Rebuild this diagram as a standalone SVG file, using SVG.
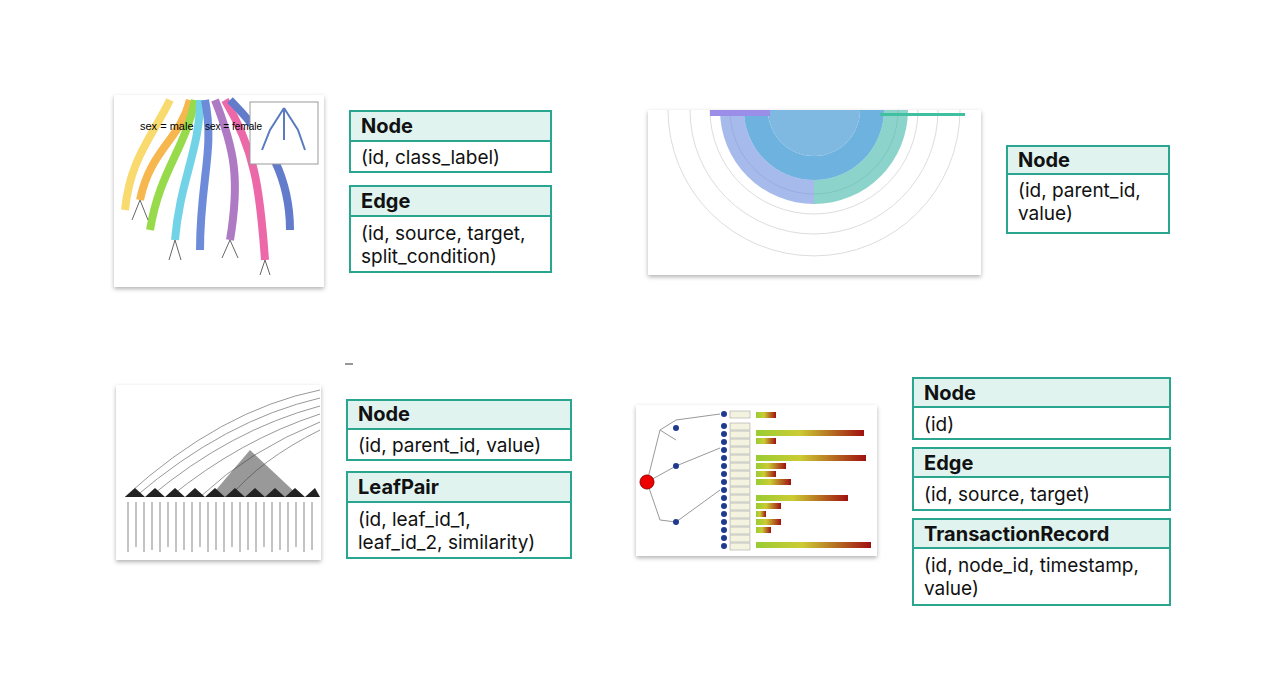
<svg xmlns="http://www.w3.org/2000/svg" width="1264" height="686" viewBox="0 0 1264 686">
<defs>
<style>
.hd{fill:#e0f3ef;stroke:#2aa58f;stroke-width:2}
.bd{fill:#fff;stroke:#2aa58f;stroke-width:2}
.ht{font-family:Inter,"Liberation Sans",sans-serif;font-weight:bold;font-size:20px;fill:#111}
.bt{font-family:Inter,"Liberation Sans",sans-serif;font-size:19px;fill:#111}
.th{fill:#fff;filter:url(#sh)}
</style>
<filter id="sh" x="-5%" y="-5%" width="110%" height="115%"><feDropShadow dx="0" dy="2" stdDeviation="2" flood-opacity="0.3"/></filter>
<linearGradient id="rg" x1="0" x2="1"><stop offset="0" stop-color="#9c3"/><stop offset="0.4" stop-color="#cc3"/><stop offset="1" stop-color="#a01010"/></linearGradient>
</defs>
<rect width="1264" height="686" fill="#fff"/>

<g id="thumb-tree">
<rect class="th" x="114" y="95" width="210" height="192"/>
<g fill="none" stroke-width="8" opacity="0.8">
<path d="M190 100 C180 140 150 150 140 200" stroke="#f5a623"/>
<path d="M195 100 C185 150 160 170 150 230" stroke="#7ed321"/>
<path d="M200 100 C200 150 180 180 175 240" stroke="#50c8e0"/>
<path d="M205 100 C215 150 200 180 200 250" stroke="#4a6fd0"/>
<path d="M215 100 C235 150 240 180 230 240" stroke="#9b59b6"/>
<path d="M225 100 C255 150 260 190 265 260" stroke="#e84393"/>
<path d="M230 100 C270 140 290 180 290 230" stroke="#3b5bbf"/>
<path d="M170 100 C150 140 130 160 125 210" stroke="#f7d14c"/>
</g>
<g stroke="#666" stroke-width="1" fill="none">
<path d="M140 200 l-8 20 M140 200 l8 20 M175 240 l-6 20 M175 240 l6 20 M230 240 l-8 18 M230 240 l8 18 M265 260 l-5 15 M265 260 l5 15"/>
</g>
<rect x="250" y="102" width="68" height="62" fill="#fff" stroke="#999"/>
<path d="M284 108 L270 130 L262 150 M284 108 L298 130 L305 150 M284 108 L284 140" stroke="#5a7bc0" stroke-width="2" fill="none"/>
<text x="140" y="130" font-family="Liberation Sans,sans-serif" font-size="11">sex = male</text>
<text x="205" y="130" font-family="Liberation Sans,sans-serif" font-size="10">sex = female</text>
</g>

<g id="node-a1"><rect class="hd" x="350" y="111" width="201" height="30"/><rect class="bd" x="350" y="141" width="201" height="31"/>
<text class="ht" x="361" y="133">Node</text><text class="bt" x="361" y="164">(id, class_label)</text></g>
<g id="edge-a"><rect class="hd" x="350" y="186" width="201" height="30"/><rect class="bd" x="350" y="216" width="201" height="56"/>
<text class="ht" x="361" y="208">Edge</text><text class="bt" x="361" y="240">(id, source, target,</text><text class="bt" x="361" y="263">split_condition)</text></g>

<g id="thumb-sunburst">
<rect class="th" x="648" y="110" width="333" height="165"/>
<g fill="none" stroke="#ddd">
<path d="M668 110 A146 146 0 0 0 960 110"/><path d="M690 110 A124 124 0 0 0 938 110"/><path d="M710 110 A104 104 0 0 0 918 110"/><path d="M730 110 A84 84 0 0 0 898 110"/>
</g>
<path d="M744 110 A70 70 0 0 0 884 110 L860 110 A46 46 0 0 1 768 110 Z" fill="#4aa0d8" opacity="0.8"/>
<path d="M720 110 A94 94 0 0 0 814 204 L814 180 A70 70 0 0 1 744 110 Z" fill="#6a8de0" opacity="0.6"/>
<path d="M814 204 A94 94 0 0 0 908 110 L884 110 A70 70 0 0 1 814 180 Z" fill="#40b8a8" opacity="0.6"/>
<path d="M768 110 A46 46 0 0 0 860 110 Z" fill="#7fb8e0"/>
<rect x="710" y="110" width="60" height="6" fill="#9a8ee8"/>
<rect x="880" y="113" width="85" height="3" fill="#40c0a0"/>
</g>

<g id="node-b"><rect class="hd" x="1007" y="146" width="162" height="28"/><rect class="bd" x="1007" y="174" width="162" height="59"/>
<text class="ht" x="1018" y="167">Node</text><text class="bt" x="1018" y="197">(id, parent_id,</text><text class="bt" x="1018" y="220">value)</text></g>

<path d="M345 364 h8" stroke="#333" stroke-width="1"/>

<g id="thumb-dendro">
<rect class="th" x="116" y="385" width="205" height="175"/>
<g fill="none" stroke="#999" stroke-width="1">
<path d="M125 497 Q220 410 320 390"/><path d="M135 497 Q225 420 320 398"/><path d="M150 497 Q230 430 320 406"/><path d="M170 497 Q240 440 320 414"/><path d="M200 497 Q250 450 320 422"/><path d="M230 497 Q260 460 320 430"/>
</g>
<path d="M210 497 L250 450 L300 497 Z" fill="#333" opacity="0.5"/>
<path d="M125 497 L135 488 L145 497 L155 488 L165 497 L175 488 L185 497 L195 488 L205 497 L215 488 L225 497 L235 488 L245 497 L255 488 L265 497 L275 488 L285 497 L295 488 L305 497 L315 488 L320 497 Z" fill="#222"/>
<g stroke="#888" stroke-width="1"><path d="M128 502 v50 M136 502 v45 M144 502 v50 M152 502 v48 M160 502 v50 M168 502 v45 M176 502 v50 M184 502 v48 M192 502 v50 M200 502 v45 M208 502 v50 M216 502 v48 M224 502 v50 M232 502 v45 M240 502 v50 M248 502 v48 M256 502 v50 M264 502 v45 M272 502 v50 M280 502 v48 M288 502 v50 M296 502 v45 M304 502 v50 M312 502 v48"/></g>
</g>

<g id="node-c"><rect class="hd" x="347" y="400" width="224" height="29"/><rect class="bd" x="347" y="429" width="224" height="31"/>
<text class="ht" x="358" y="421">Node</text><text class="bt" x="358" y="452">(id, parent_id, value)</text></g>
<g id="leafpair"><rect class="hd" x="347" y="472" width="224" height="30"/><rect class="bd" x="347" y="502" width="224" height="56"/>
<text class="ht" x="358" y="494">LeafPair</text><text class="bt" x="358" y="526">(id, leaf_id_1,</text><text class="bt" x="358" y="549">leaf_id_2, similarity)</text></g>

<g id="thumb-bars">
<rect class="th" x="636" y="405" width="241" height="151"/>
<g fill="none" stroke="#999"><path d="M647 482 L660 430 L676 420 M660 430 L676 440 M647 482 L676 466 M647 482 L660 520 L676 522 M676 420 L720 414 M676 466 L720 448 M676 522 L720 490"/></g>
<circle cx="647" cy="482" r="7" fill="#e00" stroke="#900"/>
<g fill="#1f3a8f"><circle cx="676" cy="428" r="3"/><circle cx="676" cy="466" r="3"/><circle cx="676" cy="522" r="3"/><circle cx="724" cy="414" r="3"/><circle cx="724" cy="426" r="3"/><circle cx="724" cy="434" r="3"/><circle cx="724" cy="442" r="3"/><circle cx="724" cy="450" r="3"/><circle cx="724" cy="458" r="3"/><circle cx="724" cy="466" r="3"/><circle cx="724" cy="474" r="3"/><circle cx="724" cy="482" r="3"/><circle cx="724" cy="490" r="3"/><circle cx="724" cy="498" r="3"/><circle cx="724" cy="506" r="3"/><circle cx="724" cy="514" r="3"/><circle cx="724" cy="522" r="3"/><circle cx="724" cy="530" r="3"/><circle cx="724" cy="538" r="3"/><circle cx="724" cy="546" r="3"/></g>
<g fill="url(#rg)">
<rect x="756" y="412" width="20" height="6"/><rect x="756" y="430" width="108" height="6"/><rect x="756" y="438" width="20" height="6"/>
<rect x="756" y="455" width="110" height="6"/><rect x="756" y="463" width="30" height="6"/><rect x="756" y="471" width="20" height="6"/><rect x="756" y="479" width="35" height="6"/>
<rect x="756" y="495" width="92" height="6"/><rect x="756" y="503" width="25" height="6"/><rect x="756" y="511" width="10" height="6"/><rect x="756" y="519" width="25" height="6"/><rect x="756" y="527" width="15" height="6"/><rect x="756" y="542" width="115" height="6"/>
</g>
<g fill="#f3f3e0" stroke="#999" stroke-width="0.5"><rect x="730" y="411" width="20" height="7"/><rect x="730" y="423" width="20" height="7"/><rect x="730" y="431" width="20" height="7"/><rect x="730" y="439" width="20" height="7"/><rect x="730" y="447" width="20" height="7"/><rect x="730" y="455" width="20" height="7"/><rect x="730" y="463" width="20" height="7"/><rect x="730" y="471" width="20" height="7"/><rect x="730" y="479" width="20" height="7"/><rect x="730" y="487" width="20" height="7"/><rect x="730" y="495" width="20" height="7"/><rect x="730" y="503" width="20" height="7"/><rect x="730" y="511" width="20" height="7"/><rect x="730" y="519" width="20" height="7"/><rect x="730" y="527" width="20" height="7"/><rect x="730" y="535" width="20" height="7"/><rect x="730" y="543" width="20" height="7"/></g>
</g>

<g id="node-d"><rect class="hd" x="913" y="378" width="257" height="29"/><rect class="bd" x="913" y="407" width="257" height="32"/>
<text class="ht" x="924" y="400">Node</text><text class="bt" x="924" y="431">(id)</text></g>
<g id="edge-d"><rect class="hd" x="913" y="448" width="257" height="29"/><rect class="bd" x="913" y="477" width="257" height="33"/>
<text class="ht" x="924" y="470">Edge</text><text class="bt" x="924" y="501">(id, source, target)</text></g>
<g id="transaction"><rect class="hd" x="913" y="519" width="257" height="29"/><rect class="bd" x="913" y="548" width="257" height="57"/>
<text class="ht" x="924" y="541">TransactionRecord</text><text class="bt" x="924" y="572">(id, node_id, timestamp,</text><text class="bt" x="924" y="595">value)</text></g>
<g id="connectors"/>
</svg>
